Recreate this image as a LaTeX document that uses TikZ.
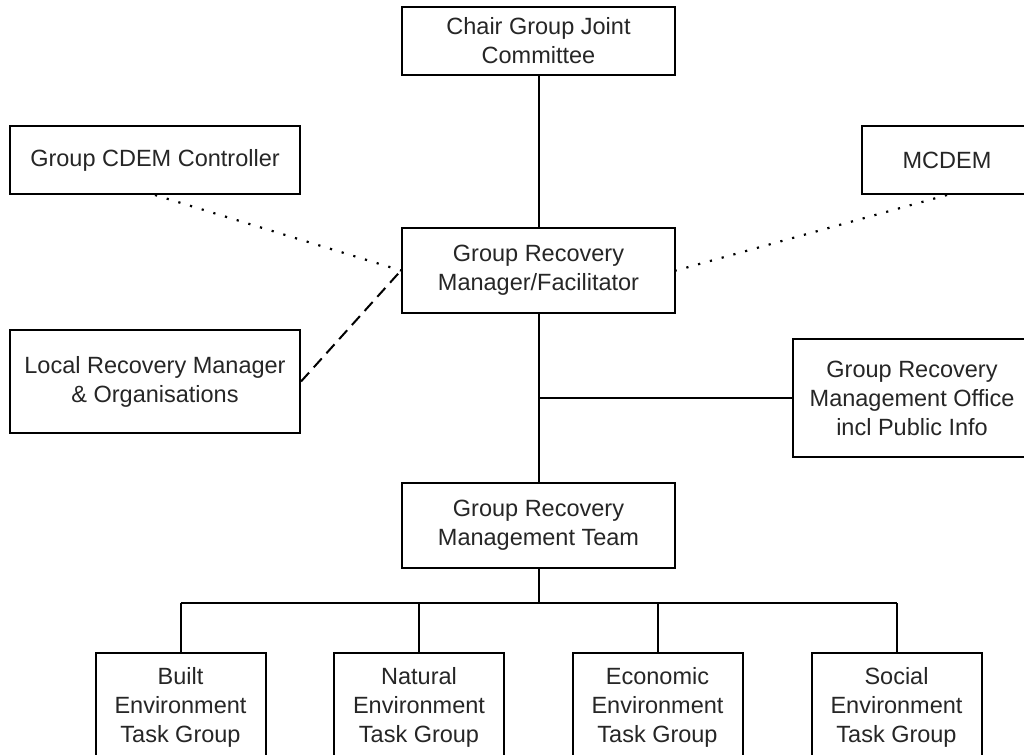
\documentclass[tikz,border=0pt]{standalone}
\usepackage{fontspec}
\setmainfont{Liberation Sans}
\usetikzlibrary{positioning}

\begin{document}
\begin{tikzpicture}[
  x=1pt, y=-1pt,
  box/.style={draw, line width=2pt, align=center, inner sep=0pt,
              font=\fontsize{23.5}{29}\selectfont, text=black!85},
  topbox/.style={box, minimum width=273pt, minimum height=68pt},
  midbox/.style={box, minimum width=273pt, minimum height=85pt},
  sidebox/.style={box, minimum width=290pt},
  taskbox/.style={box, minimum width=170pt, minimum height=108pt},
  link/.style={line width=2pt},
  dotlink/.style={line width=2.2pt, dash pattern=on 2.2pt off 10pt},
  dashlink/.style={line width=2pt, dash pattern=on 12pt off 7pt}
]
\clip (0,0) rectangle (1024,754);
\fill[white] (0,0) rectangle (1024,754);

\node[topbox] (chair) at (538.5,41) {Chair Group Joint\\Committee};
\node[sidebox, minimum height=68pt] (ctrl) at (155,160) {Group CDEM Controller};
\node[box, minimum width=170pt, minimum height=68pt] (mcdem) at (947,160) {MCDEM};
\node[midbox] (mgr) at (538.5,270.5) {Group Recovery\\Manager/Facilitator};
\node[sidebox, minimum height=103pt] (local) at (155,381.5) {Local Recovery Manager\\\& Organisations};
\node[box, minimum width=238pt, minimum height=118pt] (office) at (912,398) {Group Recovery\\Management Office\\incl Public Info};
\node[midbox] (team) at (538.5,525.5) {Group Recovery\\Management Team};

\node[taskbox] (built) at (180.5,707) {Built\\Environment\\Task Group};
\node[taskbox] (natural) at (419,707) {Natural\\Environment\\Task Group};
\node[taskbox] (econ) at (657.5,707) {Economic\\Environment\\Task Group};
\node[taskbox] (social) at (896.5,707) {Social\\Environment\\Task Group};

\coordinate (bus) at (538.5,603);

\draw[link] (chair) -- (mgr);
\draw[link] (mgr) -- (team);
\draw[link] (team.north |- office.west) -- (office.west);
\draw[link] (team.south) -- (bus);
\draw[link] (bus -| built) -- (bus -| social);
\foreach \t in {built,natural,econ,social}
  \draw[link] (bus -| \t) -- (\t.north);

\draw[dotlink] (ctrl.south) -- (mgr.west);
\draw[dotlink] (mcdem.south) -- (mgr.east);
\draw[dashlink] (local.east) -- (mgr.west);
\end{tikzpicture}
\end{document}
